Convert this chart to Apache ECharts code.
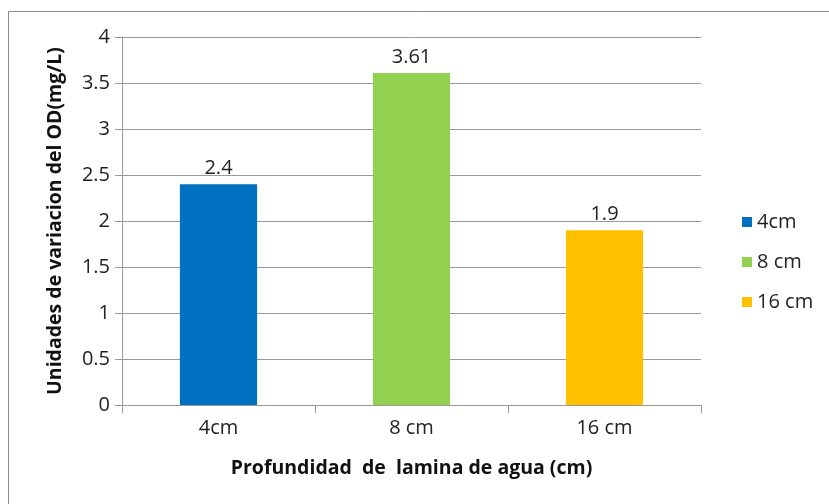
<!DOCTYPE html>
<html>
<head>
<meta charset="utf-8">
<script src="https://cdn.jsdelivr.net/npm/echarts@6/dist/echarts.min.js"></script>
<style>
  html, body { margin: 0; padding: 0; background: #fff; }
  #chart { width: 829px; height: 504px; }
</style>
</head>
<body>
<div id="chart"></div>
<script>
// Depth categories and oxygen variation per depth
const categories = ['4cm', '8 cm', '16 cm'];
const seriesNames = ['4cm', '8 cm', '16 cm'];
const seriesValues = [2.4, 3.61, 1.9];
const seriesColors = ['#0070C0', '#92D050', '#FFC000'];
const yTicks = { min: 0, max: 4, interval: 0.5 };

const FONT = 'Open Sans';
const LABEL_SIZE = 20;
const TITLE_SIZE = 19.5;

const series = seriesNames.map((name, i) => ({
  name: name,
  type: 'bar',
  barWidth: '40%',
  barGap: '-100%',
  itemStyle: { color: seriesColors[i] },
  label: {
    show: true,
    position: 'top',
    distance: 6,
    color: '#222',
    fontFamily: FONT,
    fontSize: LABEL_SIZE
  },
  data: categories.map((c, j) => (j === i ? seriesValues[i] : null))
}));

const chart = echarts.init(document.getElementById('chart'), null, { renderer: 'canvas' });
chart.setOption({
  animation: false,
  backgroundColor: '#fff',
  graphic: [{
    type: 'rect',
    shape: { x: 8.5, y: 11.5, width: 840, height: 520 },
    style: { fill: 'none', stroke: '#8c8c8c', lineWidth: 1 },
    silent: true
  }],
  grid: { left: 122, right: 128, top: 37, bottom: 99 },
  legend: {
    orient: 'vertical',
    left: 737,
    top: 207,
    itemWidth: 10,
    itemHeight: 10,
    itemGap: 20,
    icon: 'rect',
    textStyle: { fontFamily: FONT, fontSize: LABEL_SIZE, color: '#222', padding: [0, 0, 0, 0] },
    data: seriesNames
  },
  xAxis: {
    type: 'category',
    data: categories,
    name: 'Profundidad  de  lamina de agua (cm)',
    nameLocation: 'middle',
    nameGap: 53,
    nameMoveOverlap: false,
    nameTextStyle: { fontFamily: FONT, fontSize: TITLE_SIZE, fontWeight: 'bold', color: '#111' },
    axisLine: { lineStyle: { color: '#999' } },
    axisTick: { show: true, length: 8, lineStyle: { color: '#999' } },
    axisLabel: { fontFamily: FONT, fontSize: LABEL_SIZE, color: '#222', margin: 13 }
  },
  yAxis: {
    type: 'value',
    min: yTicks.min,
    max: yTicks.max,
    interval: yTicks.interval,
    name: 'Unidades de variacion del OD(mg/L)',
    nameLocation: 'middle',
    nameGap: 57,
    nameMoveOverlap: false,
    nameTextStyle: { fontFamily: FONT, fontSize: TITLE_SIZE, fontWeight: 'bold', color: '#111' },
    axisLine: { show: true, lineStyle: { color: '#999' } },
    axisTick: { show: true, length: 7, lineStyle: { color: '#999' } },
    axisLabel: { fontFamily: FONT, fontSize: LABEL_SIZE, color: '#222', margin: 12 },
    splitLine: { lineStyle: { color: '#999' } }
  },
  series: series
});
</script>
</body>
</html>
